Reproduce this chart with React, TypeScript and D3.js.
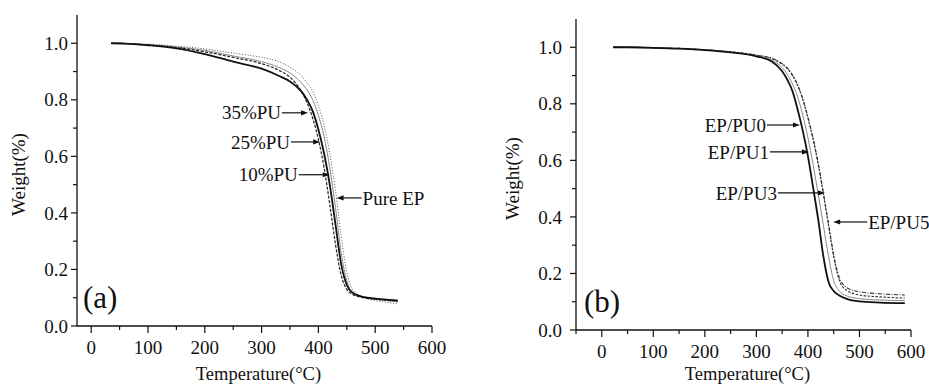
import React from "react";
import * as d3 from "d3";

// ---- data ----
const leftTemps = [35, 60, 100, 150, 200, 250, 300, 330, 350, 370, 380, 390, 400, 410, 420, 430, 440, 450, 460, 480, 500, 520, 540];
const pu35 = [1.0, 0.999, 0.994, 0.985, 0.97, 0.95, 0.928, 0.905, 0.88, 0.83, 0.79, 0.735, 0.66, 0.56, 0.43, 0.29, 0.18, 0.13, 0.112, 0.1, 0.095, 0.091, 0.088];
const pu25 = [1.0, 0.999, 0.993, 0.982, 0.962, 0.935, 0.91, 0.885, 0.865, 0.83, 0.8, 0.76, 0.695, 0.61, 0.5, 0.36, 0.22, 0.145, 0.118, 0.102, 0.097, 0.093, 0.09];
const pu10 = [1.0, 0.999, 0.995, 0.987, 0.975, 0.955, 0.935, 0.915, 0.895, 0.86, 0.835, 0.8, 0.745, 0.67, 0.56, 0.42, 0.26, 0.16, 0.12, 0.103, 0.095, 0.09, 0.085];
const pureEP = [1.0, 0.999, 0.997, 0.99, 0.98, 0.965, 0.95, 0.935, 0.915, 0.885, 0.86, 0.83, 0.78, 0.71, 0.61, 0.48, 0.32, 0.19, 0.13, 0.1, 0.09, 0.084, 0.078];

const rightTemps = [22, 50, 100, 150, 200, 250, 300, 330, 350, 360, 370, 380, 390, 400, 410, 420, 430, 440, 450, 460, 475, 500, 540, 588];
const epPu0 = [1.0, 1.0, 0.998, 0.995, 0.99, 0.982, 0.968, 0.95, 0.915, 0.885, 0.845, 0.78, 0.705, 0.615, 0.505, 0.39, 0.26, 0.17, 0.138, 0.123, 0.11, 0.101, 0.097, 0.095];
const epPu1 = [1.0, 1.0, 0.998, 0.995, 0.99, 0.983, 0.97, 0.955, 0.928, 0.905, 0.87, 0.825, 0.76, 0.68, 0.585, 0.48, 0.37, 0.26, 0.175, 0.14, 0.121, 0.111, 0.106, 0.104];
const epPu3 = [1.0, 1.0, 0.998, 0.996, 0.991, 0.984, 0.972, 0.96, 0.94, 0.925, 0.9, 0.865, 0.815, 0.75, 0.675, 0.585, 0.48, 0.37, 0.26, 0.18, 0.14, 0.124, 0.117, 0.113];
const epPu5 = [1.0, 1.0, 0.998, 0.996, 0.991, 0.984, 0.972, 0.961, 0.942, 0.927, 0.902, 0.868, 0.818, 0.753, 0.678, 0.59, 0.485, 0.375, 0.265, 0.19, 0.15, 0.135, 0.128, 0.124];

const xTicks = [0, 100, 200, 300, 400, 500, 600];
const yTicks = [0.0, 0.2, 0.4, 0.6, 0.8, 1.0];

// annotation labels and the (T, weight) point each arrow touches
const leftNotes = [
  { text: "35%PU", t: 381.7, w: 0.754, len: 26, side: "left" },
  { text: "25%PU", t: 403, w: 0.651, len: 29, side: "left" },
  { text: "10%PU", t: 420, w: 0.535, len: 31, side: "left" },
  { text: "Pure EP", t: 432, w: 0.453, len: 25, side: "right" },
];
const rightNotes = [
  { text: "EP/PU0", t: 384.6, w: 0.725, len: 33, side: "left" },
  { text: "EP/PU1", t: 402, w: 0.63, len: 39, side: "left" },
  { text: "EP/PU3", t: 433, w: 0.485, len: 47, side: "left" },
  { text: "EP/PU5", t: 449, w: 0.382, len: 34, side: "right" },
];

const FONT = "Liberation Serif, Times New Roman, serif";

const Panel = ({ box, xDomain, temps, series, notes, tag, tagPos, labelGap, titleX }) => {
  const x = d3.scaleLinear().domain(xDomain).range([box.left, box.right]);
  const y = d3.scaleLinear().domain([0, 1.1]).range([box.bottom, box.top]);
  const line = d3
    .line()
    .x((d) => x(d[0]))
    .y((d) => y(d[1]))
    .curve(d3.curveMonotoneX);

  const minorX = d3.range(Math.ceil(xDomain[0] / 50) * 50, 601, 50).filter((v) => v % 100 !== 0);
  const minorY = [0.1, 0.3, 0.5, 0.7, 0.9];

  return (
    <g fontFamily={FONT} fill="#111">
      {/* curves */}
      {series.map((s, i) => (
        <path
          key={i}
          d={line(temps.map((t, j) => [t, s.values[j]]))}
          fill="none"
          stroke={s.color}
          strokeWidth={s.width}
          strokeDasharray={s.dash}
        />
      ))}
      {/* axes */}
      <line x1={box.left} x2={box.left} y1={box.top} y2={box.bottom} stroke="#111" strokeWidth={1.3} />
      <line x1={box.left} x2={box.right} y1={box.bottom} y2={box.bottom} stroke="#111" strokeWidth={1.3} />
      {xTicks.map((t) => (
        <g key={t}>
          <line x1={x(t)} x2={x(t)} y1={box.bottom} y2={box.bottom + 7} stroke="#111" strokeWidth={1.2} />
          <text x={x(t)} y={box.bottom + 28} textAnchor="middle" fontSize="19px">
            {t}
          </text>
        </g>
      ))}
      {minorX.map((t) => (
        <line key={t} x1={x(t)} x2={x(t)} y1={box.bottom} y2={box.bottom + 4} stroke="#111" strokeWidth={1.2} />
      ))}
      {yTicks.map((t) => (
        <g key={t}>
          <line x1={box.left - 6} x2={box.left} y1={y(t)} y2={y(t)} stroke="#111" strokeWidth={1.2} />
          <text x={box.left - labelGap} y={y(t)} dy="0.35em" textAnchor="end" fontSize="19px">
            {t.toFixed(1)}
          </text>
        </g>
      ))}
      {minorY.map((t) => (
        <line key={t} x1={box.left - 4} x2={box.left} y1={y(t)} y2={y(t)} stroke="#111" strokeWidth={1.2} />
      ))}
      <text
        transform={`translate(${titleX}, ${(box.top + box.bottom) / 2 + 4}) rotate(-90)`}
        textAnchor="middle"
        dy="0.35em"
        fontSize="19px"
      >
        Weight(%)
      </text>
      <text x={(box.left + box.right) / 2 + 4} y={Math.min(box.bottom + 55, 380)} textAnchor="middle" fontSize="18.5px">
        Temperature(°C)
      </text>
      <text x={tagPos[0]} y={tagPos[1]} fontSize="31px">
        {tag}
      </text>
      {/* annotations */}
      {notes.map((n) => {
        const tx = x(n.t);
        const ty = y(n.w);
        const dir = n.side === "left" ? -1 : 1;
        const start = tx + dir * n.len;
        const head = `M${tx},${ty} L${tx + dir * 7},${ty - 2.6} L${tx + dir * 7},${ty + 2.6} Z`;
        return (
          <g key={n.text}>
            <line x1={start} x2={tx + dir * 5} y1={ty} y2={ty} stroke="#111" strokeWidth={1.2} />
            <path d={head} fill="#111" />
            <text
              x={start + dir * 1}
              y={ty}
              dy="0.35em"
              textAnchor={n.side === "left" ? "end" : "start"}
              fontSize="19px"
            >
              {n.text}
            </text>
          </g>
        );
      })}
    </g>
  );
};

const App = () => {
  const leftSeries = [
    { values: pureEP, color: "#555", width: 1, dash: "1,1.8" },
    { values: pu10, color: "#888", width: 1 },
    { values: pu35, color: "#222", width: 1.2, dash: "3,1.5" },
    { values: pu25, color: "#111", width: 1.8 },
  ];
  const rightSeries = [
    { values: epPu5, color: "#333", width: 1.1, dash: "4,1.5,1,1.5" },
    { values: epPu3, color: "#333", width: 1.1, dash: "2.5,1.5" },
    { values: epPu1, color: "#888", width: 1 },
    { values: epPu0, color: "#111", width: 1.8 },
  ];

  return (
    <svg
      width={929}
      height={385}
      style={{ position: "absolute", left: 0, top: 0, background: "#fff" }}
    >
      <Panel
        box={{ left: 77, right: 432, top: 15, bottom: 326 }}
        xDomain={[-25, 600]}
        temps={leftTemps}
        series={leftSeries}
        notes={leftNotes}
        tag="(a)"
        tagPos={[83, 308]}
        labelGap={9}
        titleX={18}
      />
      <Panel
        box={{ left: 576, right: 911, top: 19, bottom: 330 }}
        xDomain={[-50, 600]}
        temps={rightTemps}
        series={rightSeries}
        notes={rightNotes}
        tag="(b)"
        tagPos={[584, 312]}
        labelGap={14}
        titleX={512}
      />
    </svg>
  );
};

export default App;
